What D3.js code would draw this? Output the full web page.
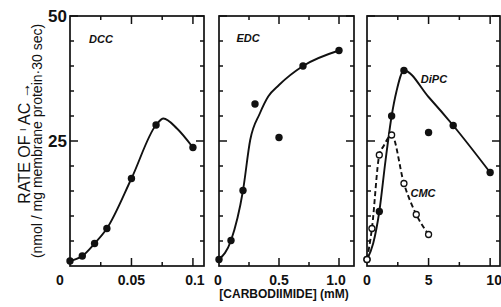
<!DOCTYPE html>
<html>
<head>
    <title>Carbodiimide</title>
    <script src="https://cdnjs.cloudflare.com/ajax/libs/d3/7.8.5/d3.min.js"></script>
    <style>
        body { margin: 0; background: #fff; }
        text { font-family: "Liberation Sans", Arial, sans-serif; fill: #111; }
    </style>
</head>

<body>
    <div id="chart"></div>

    <script>
        // DCC panel
        let dccX = [0, 0.01, 0.02, 0.03, 0.05, 0.07, 0.1]
        let dccY = [1.0, 2.0, 4.5, 7.5, 17.5, 28.2, 23.7]
        let dccFitX = [0, 0.01, 0.02, 0.03, 0.05, 0.07, 0.076, 0.087, 0.1]
        let dccFitY = [1.0, 2.0, 4.5, 7.5, 17.5, 28.2, 29.5, 27.5, 23.7]

        // EDC panel
        let edcX = [0, 0.1, 0.2, 0.3, 0.5, 0.7, 1.0]
        let edcY = [1.3, 5.1, 15.1, 32.4, 25.7, 40.0, 43.1]
        let edcFitX = [0, 0.1, 0.2, 0.26, 0.34, 0.41, 0.5, 0.7, 1.0]
        let edcFitY = [1.3, 5.1, 15.1, 25.2, 30.5, 33.9, 36.2, 40.0, 43.1]

        // DiPC panel (filled)
        let dipcX = [0, 1, 2, 3, 5, 7, 10]
        let dipcY = [1.3, 10.9, 30.0, 39.1, 26.7, 28.1, 18.7]
        let dipcFitX = [0, 0.5, 1, 1.5, 2, 2.4, 3, 5, 7, 10]
        let dipcFitY = [1.3, 4.5, 10.9, 21.0, 30.0, 35.0, 39.1, 33.8, 28.1, 18.7]

        // CMC (open, dashed)
        let cmcX = [0, 0.4, 1, 2, 3, 4, 5]
        let cmcY = [1.3, 7.5, 22.2, 26.2, 16.5, 10.3, 6.3]
        let cmcFitX = [0, 0.4, 1, 1.35, 2, 3, 4, 5]
        let cmcFitY = [1.3, 7.5, 22.2, 24.0, 26.2, 16.5, 10.3, 6.3]

        let yMajor = [25, 50]
        let yMinor = [5, 10, 15, 20, 30, 35, 40, 45]

        const W = 501, H = 307
        let svg = d3.select("#chart").append("svg").attr("width", W).attr("height", H)

        let y = d3.scaleLinear().domain([0, 50]).range([266, 16])

        let panels = [
            { x: d3.scaleLinear().domain([0, 0.109]).range([70, 204]), major: [0.05, 0.1], minor: [0.025, 0.075],
              labels: [[0, "0", -10], [0.05, "0.05", 0], [0.1, "0.1", 2]] },
            { x: d3.scaleLinear().domain([0, 1.125]).range([219, 354]), major: [0.5, 1.0], minor: [0.25, 0.75],
              labels: [[0, "0", -1], [0.5, "0.5", 0], [1.0, "1.0", -3]] },
            { x: d3.scaleLinear().domain([0, 10.8]).range([367, 500]), major: [5, 10], minor: [2.5, 7.5],
              labels: [[0, "0", 0], [5, "5", 0], [10, "10", 4]] }
        ]

        let zip = (a, b) => a.map((v, i) => [v, b[i]])

        panels.forEach(function (p) {
            let [x0, x1] = p.x.range()
            let g = svg.append("g")
            g.append("rect").attr("x", x0).attr("y", y(50)).attr("width", x1 - x0).attr("height", y(0) - y(50))
                .attr("fill", "none").attr("stroke", "#111").attr("stroke-width", 1.7)

            // ticks on all four sides, inward
            let tk = function (vals, len, horiz) {
                vals.forEach(function (v) {
                    if (horiz) {
                        g.append("line").attr("x1", p.x(v)).attr("x2", p.x(v)).attr("y1", y(0)).attr("y2", y(0) - len)
                        g.append("line").attr("x1", p.x(v)).attr("x2", p.x(v)).attr("y1", y(50)).attr("y2", y(50) + len)
                    } else {
                        g.append("line").attr("x1", x0).attr("x2", x0 + len).attr("y1", y(v)).attr("y2", y(v))
                        g.append("line").attr("x1", x1).attr("x2", x1 - len).attr("y1", y(v)).attr("y2", y(v))
                    }
                })
            }
            tk(p.major, 8, true)
            tk(p.minor, 4, true)
            tk(yMajor, 8, false)
            tk(yMinor, 4, false)
            g.selectAll("line").attr("stroke", "#111").attr("stroke-width", 1.5)

            p.labels.forEach(function (l) {
                svg.append("text").attr("x", p.x(l[0]) + l[2]).attr("y", 285)
                    .attr("text-anchor", "middle").style("font-size", "14px").style("font-weight", "bold")
                    .text(l[1])
            })
        })

        let line = (xs) => d3.line().x(d => xs(d[0])).y(d => y(d[1])).curve(d3.curveMonotoneX)

        function drawSeries(p, fitX, fitY, px, py, open, dashed) {
            svg.append("path").attr("d", line(p.x)(zip(fitX, fitY)))
                .attr("fill", "none").attr("stroke", "#111").attr("stroke-width", 1.9)
                .attr("stroke-dasharray", dashed ? "5,3" : null)
            svg.append("g").selectAll("circle").data(zip(px, py)).join("circle")
                .attr("cx", d => p.x(d[0])).attr("cy", d => y(d[1]))
                .attr("r", open ? 3 : 3.7)
                .attr("fill", open ? "#fff" : "#111")
                .attr("stroke", "#111").attr("stroke-width", open ? 1.3 : 0)
        }

        drawSeries(panels[0], dccFitX, dccFitY, dccX, dccY, false, false)
        drawSeries(panels[1], edcFitX, edcFitY, edcX, edcY, false, false)
        drawSeries(panels[2], dipcFitX, dipcFitY, dipcX, dipcY, false, false)
        drawSeries(panels[2], cmcFitX, cmcFitY, cmcX, cmcY, true, true)

        // series labels
        let names = [["DCC", 101, 43], ["EDC", 248, 42], ["DiPC", 434, 83], ["CMC", 423, 197]]
        names.forEach(function (n) {
            svg.append("text").attr("x", n[1]).attr("y", n[2]).attr("text-anchor", "middle")
                .style("font-size", "11px").style("font-weight", "bold").style("font-style", "italic")
                .text(n[0])
        })

        // y tick labels
        yMajor.forEach(function (v) {
            svg.append("text").attr("x", 67).attr("y", y(v) + 6).attr("text-anchor", "end")
                .style("font-size", "17px").style("font-weight", "bold").text(v)
        })

        // axis titles
        svg.append("text").attr("x", 284).attr("y", 298).attr("text-anchor", "middle")
            .style("font-size", "12px").style("font-weight", "bold").text("[CARBODIIMIDE] (mM)")

        let t1 = svg.append("text").attr("transform", "translate(30,143) rotate(-90)").attr("text-anchor", "middle")
            .style("font-size", "16px")
        t1.append("tspan").text("RATE OF ")
        t1.append("tspan").style("font-size", "9px").attr("dy", -4).text("I")
        t1.append("tspan").attr("dy", 4).text(" AC →")

        svg.append("text").attr("transform", "translate(42,141) rotate(-90)").attr("text-anchor", "middle")
            .style("font-size", "14px").text("(nmol / mg membrane protein·30 sec)")
    </script>
</body>

</html>
